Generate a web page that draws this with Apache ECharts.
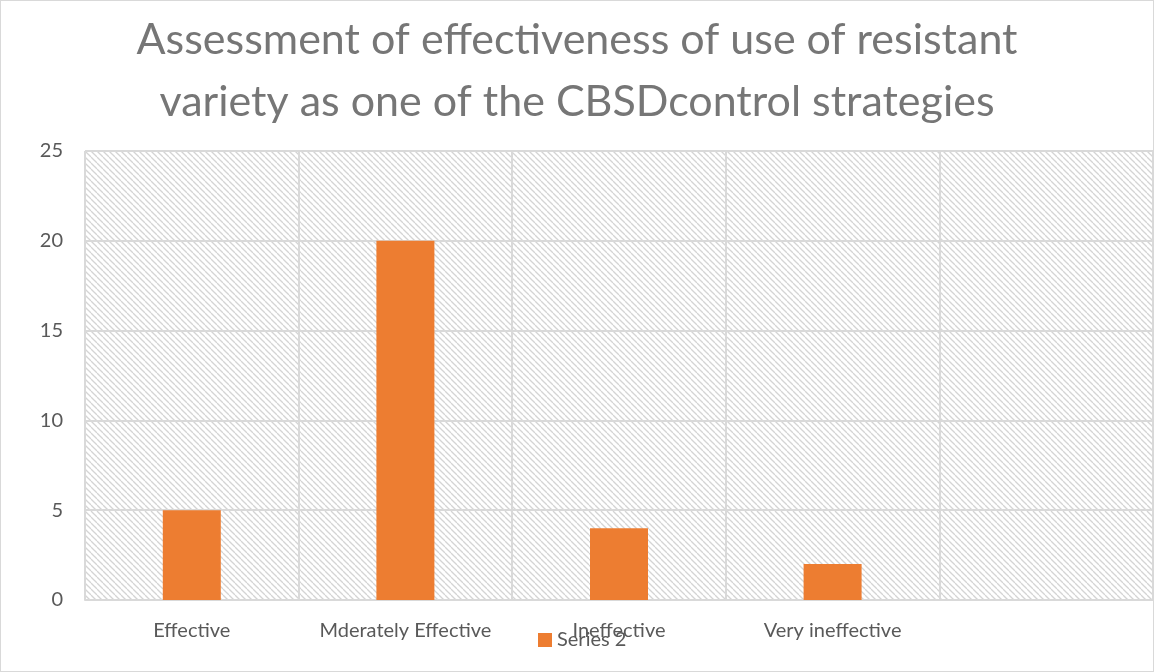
<!DOCTYPE html>
<html><head><meta charset="utf-8">
<script src="https://cdn.jsdelivr.net/npm/echarts@6/dist/echarts.min.js"></script>
<style>html,body{margin:0;padding:0;background:#fff}#c{width:1154px;height:672px;box-sizing:border-box;border:1px solid #d9d9d9}</style>
</head><body><div id="c"></div>
<script>
const titleLines = ['Assessment of effectiveness of use of resistant', 'variety as one of the CBSDcontrol strategies'];
const categories = ['Effective', 'Mderately Effective', 'Ineffective', 'Very ineffective', ''];
const seriesName = 'Series 2';
const values = [5, 20, 4, 2, null];
const yTicks = {min: 0, max: 25, interval: 5};

const pc = document.createElement('canvas');
pc.width = 6; pc.height = 6;
const ctx = pc.getContext('2d');
ctx.fillStyle = '#ffffff'; ctx.fillRect(0,0,6,6);
ctx.strokeStyle = '#d4d4d4'; ctx.lineWidth = 1.3;
for (let k=-1;k<=1;k++){ctx.beginPath();ctx.moveTo(k*6,0);ctx.lineTo(k*6+6,6);ctx.stroke();}

const chart = echarts.init(document.getElementById('c'));
chart.setOption({
  animation: false,
  title: {text: titleLines.join('\n'), left: 'center', top: 3,
    textStyle: {fontFamily: 'Lato', fontSize: 43, fontWeight: 'normal', color: '#767676', lineHeight: 62}},
  legend: {data: [seriesName], left: 532, top: 624, itemWidth: 14, itemHeight: 14, itemGap: 5,
    icon: 'rect', textStyle: {fontFamily: 'Lato', fontSize: 20, color: '#595959'}},
  grid: {left: 84, right: 0, top: 150, bottom: 71, show: true, borderWidth: 0,
    backgroundColor: {image: pc, repeat: 'repeat'}},
  xAxis: {type: 'category', data: categories,
    axisLine: {show: true, lineStyle: {color: '#d9d9d9', width: 2}},
    axisTick: {show: false},
    splitLine: {show: true, interval: 0, lineStyle: {color: '#d9d9d9', width: 2}},
    axisLabel: {interval: 0, fontFamily: 'Lato', fontSize: 20, color: '#595959', margin: 21}},
  yAxis: {type: 'value', min: yTicks.min, max: yTicks.max, interval: yTicks.interval,
    axisLine: {show: false}, axisTick: {show: false},
    splitLine: {show: true, lineStyle: {color: '#d9d9d9', width: 2}},
    axisLabel: {fontFamily: 'Lato', fontSize: 20, color: '#595959', margin: 22}},
  series: [{name: seriesName, type: 'bar', data: values, barWidth: 58,
    itemStyle: {color: '#ED7D31'}}]
});
</script></body></html>
